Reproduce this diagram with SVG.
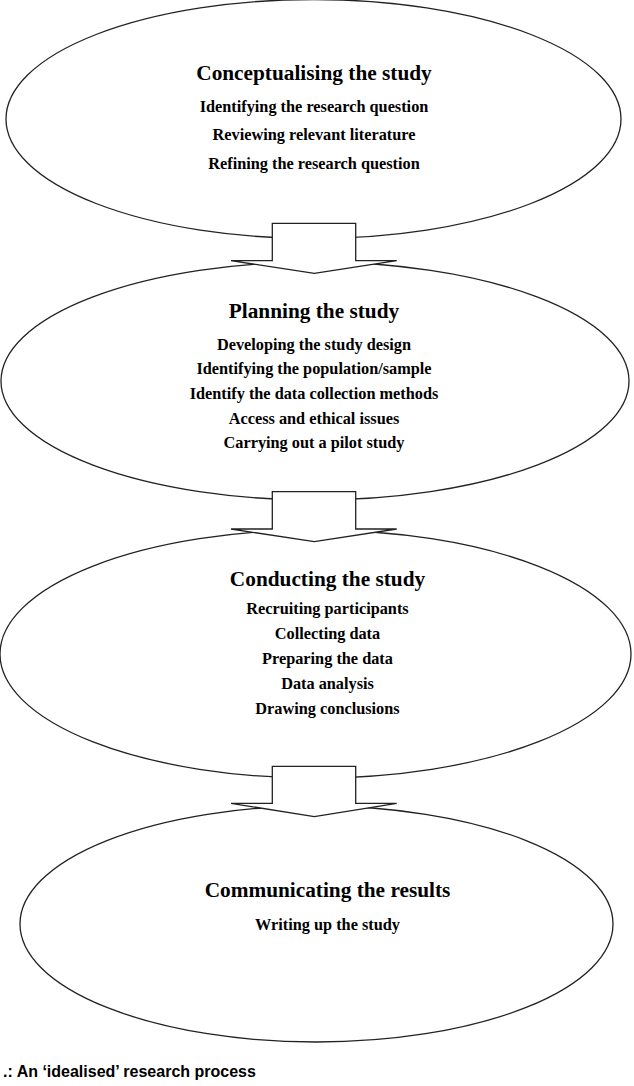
<svg xmlns="http://www.w3.org/2000/svg" width="634" height="1086" viewBox="0 0 634 1086">
<style>
.ell{fill:#fff;stroke:#222;stroke-width:1.3}
.arr{fill:#fff;stroke:#222;stroke-width:1.3;stroke-linejoin:miter}
.t{font-family:"Liberation Serif","Times New Roman",serif;font-weight:bold;font-size:21.3px;fill:#000;text-anchor:middle}
.i{font-family:"Liberation Serif","Times New Roman",serif;font-weight:bold;font-size:16.3px;fill:#000;text-anchor:middle}
.cap{font-family:"Liberation Sans",Arial,sans-serif;font-weight:bold;font-size:16px;fill:#000}
</style>
<rect width="634" height="1086" fill="#fff"/>
<g id="node1">
<ellipse class="ell" cx="313.5" cy="119" rx="307.5" ry="119.5"/>
<text class="t" x="314" y="80">Conceptualising the study</text>
<text class="i" x="314" y="112">Identifying the research question</text>
<text class="i" x="314" y="140">Reviewing relevant literature</text>
<text class="i" x="314" y="169">Refining the research question</text>
</g>
<g id="node2">
<ellipse class="ell" cx="315" cy="381" rx="314" ry="119"/>
<text class="t" x="314" y="318">Planning the study</text>
<text class="i" x="314" y="350">Developing the study design</text>
<text class="i" x="314" y="374">Identifying the population/sample</text>
<text class="i" x="314" y="399">Identify the data collection methods</text>
<text class="i" x="314" y="424">Access and ethical issues</text>
<text class="i" x="314" y="448">Carrying out a pilot study</text>
</g>
<g id="node3">
<ellipse class="ell" cx="315.5" cy="654" rx="315.5" ry="124"/>
<text class="t" x="327.5" y="586">Conducting the study</text>
<text class="i" x="327.5" y="614">Recruiting participants</text>
<text class="i" x="327.5" y="639">Collecting data</text>
<text class="i" x="327.5" y="664">Preparing the data</text>
<text class="i" x="327.5" y="689">Data analysis</text>
<text class="i" x="327.5" y="714">Drawing conclusions</text>
</g>
<g id="node4">
<ellipse class="ell" cx="316.5" cy="924" rx="296.5" ry="118"/>
<text class="t" x="327.5" y="897">Communicating the results</text>
<text class="i" x="327.5" y="930">Writing up the study</text>
</g>
<g id="connectors">
<polygon class="arr" points="272.3,223.3 355.7,223.3 355.7,260.7 396.7,260.7 314.3,273.3 231,260.7 272.3,260.7"/>
<polygon class="arr" points="272.3,491.7 355.7,491.7 355.7,529 396.7,529 314.3,541.7 231,529 272.3,529"/>
<polygon class="arr" points="272.3,766.3 355.7,766.3 355.7,803.3 396.7,803.3 314.3,816.7 231,803.3 272.3,803.3"/>
</g>
<text class="cap" x="3" y="1077">.: An ‘idealised’ research process</text>
</svg>
